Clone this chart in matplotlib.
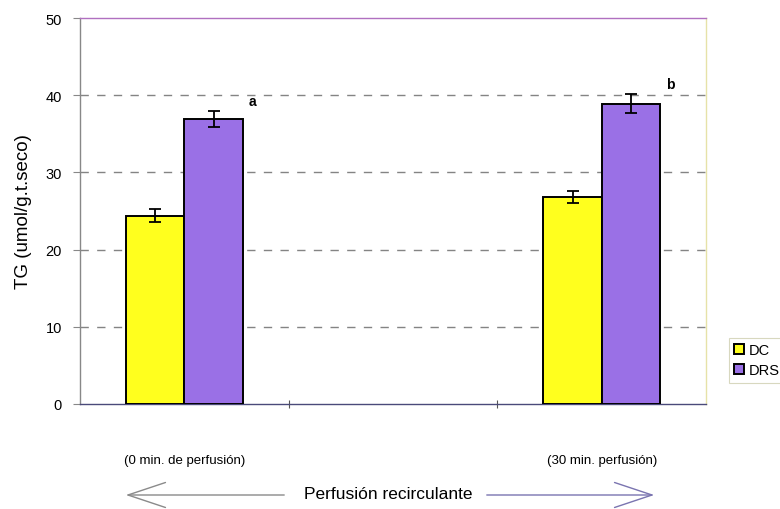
import numpy as np
import matplotlib.pyplot as plt
from matplotlib.patches import FancyArrowPatch

# TG content, umol/g tejido seco
groups = ["(0 min. de perfusión)", "", "(30 min. perfusión)"]
dc_mean = [24.4, np.nan, 26.8]
dc_err = [0.8, np.nan, 0.8]
drs_mean = [36.9, np.nan, 38.9]
drs_err = [1.0, np.nan, 1.2]
sig_labels = ["a", "", "b"]
y_ticks = [0, 10, 20, 30, 40, 50]

fig = plt.figure(figsize=(7.8, 5.1), dpi=100)
ax = fig.add_axes([0.1026, 0.2059, 0.8026, 0.7568])

x = np.arange(len(groups))
w = 0.28

ax.bar(x - w / 2, dc_mean, w, color="#ffff1e", edgecolor="black", linewidth=1.4,
       label="DC", zorder=3)
ax.bar(x + w / 2, drs_mean, w, color="#9a70e6", edgecolor="black", linewidth=1.4,
       label="DRS", zorder=3)
ax.errorbar(x - w / 2, dc_mean, yerr=dc_err, fmt="none", ecolor="black",
            elinewidth=1.3, capsize=4.5, capthick=1.3, zorder=4)
ax.errorbar(x + w / 2, drs_mean, yerr=drs_err, fmt="none", ecolor="black",
            elinewidth=1.3, capsize=4.5, capthick=1.3, zorder=4)

for xi, m, e, s in zip(x, drs_mean, drs_err, sig_labels):
    if s:
        ax.text(xi + w + 0.03, m + e + 1.4, s, fontsize=10, fontweight="bold",
                ha="left", va="center", family="Liberation Sans")

ax.set_xlim(-0.5, 2.5)
ax.set_ylim(0, 50)
ax.set_yticks(y_ticks)
ax.set_yticklabels([str(t) for t in y_ticks], fontsize=10.5, family="Liberation Sans")
ax.tick_params(axis="y", direction="out", length=5, width=0.8, color="#888888", pad=8)
ax.set_xticks([0.5, 1.5])
ax.set_xticklabels([])
ax.tick_params(axis="x", direction="inout", length=6, width=0.8, color="#555555")

# dashed horizontal gridlines
for t in y_ticks[1:-1]:
    ax.axhline(t, color="#848484", linestyle=(0, (6, 6)), linewidth=1.0, zorder=1)

ax.spines["left"].set_color("#888888")
ax.spines["bottom"].set_color("#4a4a7a")
ax.spines["top"].set_color("#b070c0")
ax.spines["right"].set_color("#e6e2a8")
for sp in ax.spines.values():
    sp.set_linewidth(1.0)

ax.set_ylabel("TG (umol/g.t.seco)", fontsize=13.5, family="Liberation Sans",
              labelpad=10)

for xi, g in zip(x, groups):
    if g:
        fig.text(ax.transData.transform((xi, 0))[0] / 780, 1 - 461 / 510, g,
                 ha="center", va="center", fontsize=9.5, family="Liberation Sans")

leg = fig.legend(loc="upper left", bbox_to_anchor=(0.925, 0.35),
                 handlelength=0.7, handleheight=0.7, handletextpad=0.3,
                 borderpad=0.35, labelspacing=0.45, frameon=True, fancybox=False,
                 prop={"family": "Liberation Sans", "size": 10.5})
leg.get_frame().set_edgecolor("#cfcfb0")
leg.get_frame().set_linewidth(0.8)

# arrow under the axis
fig.text(388 / 780, 1 - 495 / 510, "Perfusión recirculante", ha="center",
         va="center", fontsize=12.5, family="Liberation Sans")
fig.add_artist(FancyArrowPatch((287 / 780, 1 - 496 / 510), (123 / 780, 1 - 496 / 510),
                               transform=fig.transFigure,
                               arrowstyle="->,head_length=9,head_width=3",
                               color="#8a8a8a", linewidth=1.0, mutation_scale=3))
fig.add_artist(FancyArrowPatch((484 / 780, 1 - 496 / 510), (657 / 780, 1 - 496 / 510),
                               transform=fig.transFigure,
                               arrowstyle="->,head_length=9,head_width=3",
                               color="#7a74b0", linewidth=1.0, mutation_scale=3))

fig.savefig("out.png", dpi=100)
